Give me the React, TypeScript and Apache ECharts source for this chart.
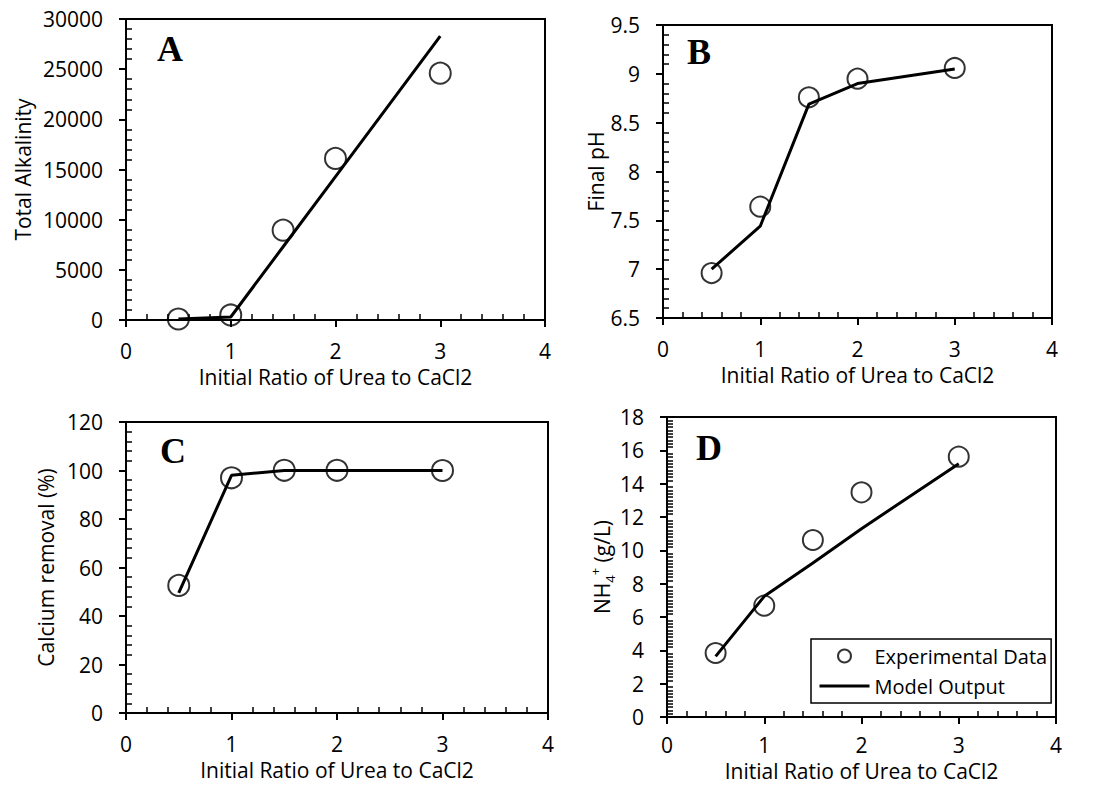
import React, { useEffect, useRef } from "react";
import * as echarts from "echarts";

// ---- Data ----
const ratios = [0.5, 1, 1.5, 2, 3];

const alkalinityExp = [100, 500, 8950, 16100, 24600];
const alkalinityModel = [100, 300, 7300, 14300, 28300];

const phExp = [6.96, 7.64, 8.76, 8.95, 9.06];
const phModel = [7.0, 7.44, 8.69, 8.9, 9.05];

const calciumExp = [52.6, 97.0, 100.1, 100.1, 100.0];
const calciumModel = [49.5, 98.0, 100.0, 100.0, 100.0];

const ammoniumExp = [3.84, 6.68, 10.62, 13.48, 15.62];
const ammoniumModel = [3.64, 7.24, 9.24, 11.3, 15.2];

const panelLetters = ["A", "B", "C", "D"];
const xTitle = "Initial Ratio of Urea to CaCl2";
const yTitles = [
  "Total Alkalinity",
  "Final pH",
  "Calcium removal (%)",
  "{n|NH}{sub|4}{sup|+}{n| (g/L)}",
];
const yRanges = [
  { min: 0, max: 30000, interval: 5000, minor: 5 },
  { min: 6.5, max: 9.5, interval: 0.5, minor: 5 },
  { min: 0, max: 120, interval: 20, minor: 5 },
  { min: 0, max: 18, interval: 2, minor: 10 },
];
const expName = "Experimental Data";
const modelName = "Model Output";

// ---- Layout ----
const FONT = "Open Sans";
const FS = 21;
const grids = [
  { left: 126, top: 19, width: 419, height: 301 },
  { left: 663, top: 25, width: 389, height: 293 },
  { left: 126, top: 422, width: 422, height: 291 },
  { left: 667, top: 417, width: 389, height: 300 },
];
const xNameGaps = [46, 46, 46, 43];
const xLabelMargins = [20, 20, 20, 17];
const yNameGaps = [93, 44, 70, 50];
const letterPos = [
  { x: 157, y: 49 },
  { x: 687, y: 52 },
  { x: 160, y: 451 },
  { x: 696, y: 448 },
];
const symbolSizes = [21, 20, 21, 20];

function pairs(xs: number[], ys: number[]) {
  return xs.map((x, i) => [x, ys[i]]);
}

export default function App() {
  const ref = useRef<HTMLDivElement>(null);
  useEffect(() => {
    document.body.style.margin = "0";
    const chart = echarts.init(ref.current!, null, { renderer: "svg" });
    const expSets = [alkalinityExp, phExp, calciumExp, ammoniumExp];
    const modelSets = [alkalinityModel, phModel, calciumModel, ammoniumModel];

    const black = "#000";
    const textBase = { fontFamily: FONT, fontSize: FS, color: black };

    const xAxes = grids.map((_, i) => ({
      type: "value",
      gridIndex: i,
      min: 0,
      max: 4,
      interval: 1,
      name: xTitle,
      nameLocation: "middle",
      nameGap: xNameGaps[i],
      nameTextStyle: { ...textBase, lineHeight: 21 },
      axisLine: { show: true, onZero: false, lineStyle: { color: black, width: 2 } },
      axisTick: { show: true, length: 7, lineStyle: { color: black, width: 2 } },
      minorTick: { show: true, splitNumber: 5, length: -6, lineStyle: { color: black, width: 1.5 } },
      axisLabel: { ...textBase, lineHeight: 21, margin: xLabelMargins[i], formatter: (v: number) => String(v) },
      splitLine: { show: false },
      minorSplitLine: { show: false },
    }));

    const yAxes = grids.map((_, i) => ({
      type: "value",
      gridIndex: i,
      min: yRanges[i].min,
      max: yRanges[i].max,
      interval: yRanges[i].interval,
      name: yTitles[i],
      nameLocation: "middle",
      nameGap: yNameGaps[i],
      nameTextStyle: {
        ...textBase,
        rich: {
          n: { fontFamily: FONT, fontSize: FS, color: black, lineHeight: 28, verticalAlign: "middle" },
          sub: { fontFamily: FONT, fontSize: 13, color: black, lineHeight: 28, verticalAlign: "bottom" },
          sup: { fontFamily: FONT, fontSize: 13, color: black, lineHeight: 28, verticalAlign: "top" },
        },
      },
      axisLine: { show: true, onZero: false, lineStyle: { color: black, width: 2 } },
      axisTick: { show: true, length: 7, lineStyle: { color: black, width: 2 } },
      minorTick: { show: true, splitNumber: yRanges[i].minor, length: -6, lineStyle: { color: black, width: 1.5 } },
      axisLabel: { ...textBase, margin: 23, formatter: (v: number) => String(v) },
      splitLine: { show: false },
      minorSplitLine: { show: false },
    }));

    const series: any[] = [];
    grids.forEach((_, i) => {
      series.push({
        type: "line",
        name: modelName,
        xAxisIndex: i,
        yAxisIndex: i,
        data: pairs(ratios, modelSets[i]),
        symbol: "none",
        lineStyle: { color: black, width: 3 },
        itemStyle: { color: black },
        z: 2,
      });
      series.push({
        type: "scatter",
        name: expName,
        xAxisIndex: i,
        yAxisIndex: i,
        data: pairs(ratios, expSets[i]),
        symbol: "circle",
        symbolSize: symbolSizes[i],
        itemStyle: { color: "rgba(0,0,0,0)", borderColor: black, borderWidth: 2 },
        z: 3,
      });
    });

    chart.setOption({
      animation: false,
      backgroundColor: "#fff",
      grid: grids.map((g) => ({
        ...g,
        show: true,
        borderColor: black,
        borderWidth: 2,
        backgroundColor: "transparent",
        containLabel: false,
        outerBoundsMode: "none",
      })),
      xAxis: xAxes,
      yAxis: yAxes,
      legend: {
        orient: "vertical",
        left: 811,
        top: 639,
        padding: [7, 4, 7, 7],
        itemGap: 10,
        itemWidth: 50,
        itemHeight: 13,
        borderColor: black,
        borderWidth: 1.5,
        selectedMode: false,
        textStyle: { ...textBase, fontSize: 20 },
        lineStyle: { width: 3 },
        data: [
          { name: expName, itemStyle: { borderWidth: 2 } },
          { name: modelName, itemStyle: { opacity: 0 } },
        ],
      },
      graphic: panelLetters.map((t, i) => ({
        type: "text",
        x: letterPos[i].x,
        y: letterPos[i].y,
        style: {
          text: t,
          fontFamily: "Liberation Serif",
          fontWeight: "bold",
          fontSize: 36,
          fill: black,
          verticalAlign: "middle",
          align: "left",
        },
      })),
      series,
    });
    return () => chart.dispose();
  }, []);
  return <div ref={ref} style={{ width: 1097, height: 785 }} />;
}
